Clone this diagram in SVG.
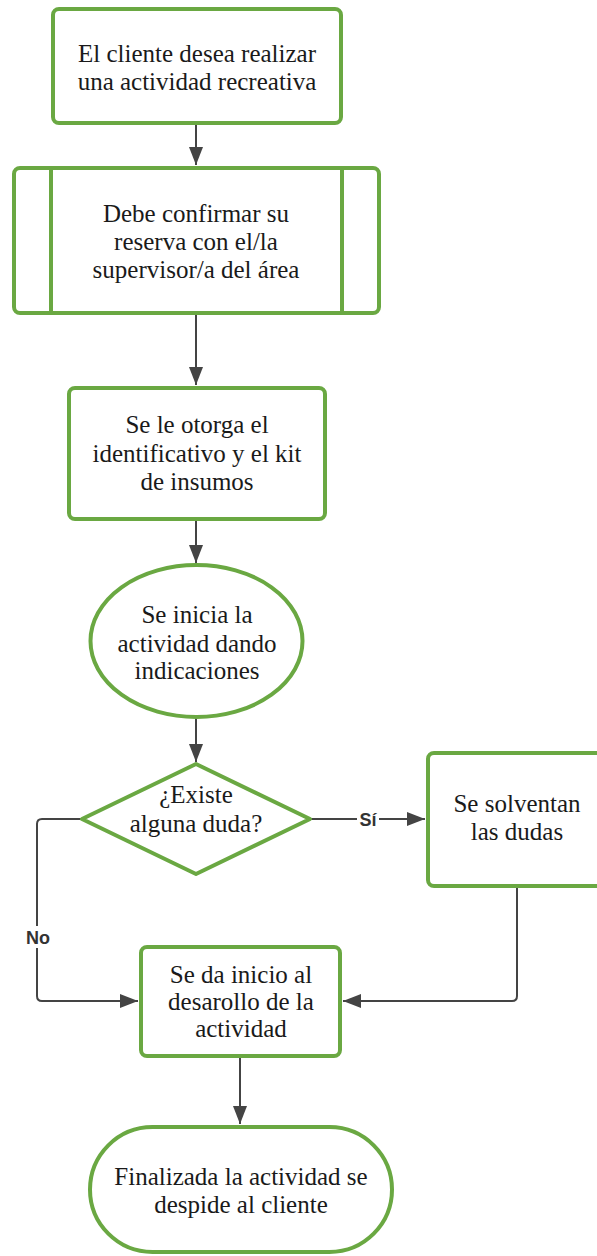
<svg xmlns="http://www.w3.org/2000/svg" width="597" height="1256" viewBox="0 0 597 1256">
<defs>
<style>
.n{fill:#fff;stroke:#6aa842;stroke-width:4;stroke-linejoin:round}
.t{font-family:"Liberation Serif","Times New Roman",serif;font-size:25px;fill:#1a1a1a;text-anchor:middle}
.c{fill:none;stroke:#444;stroke-width:2;stroke-linejoin:round}
.l{font-family:"Liberation Sans",Arial,sans-serif;font-size:18px;font-weight:bold;fill:#333;text-anchor:middle}
</style>
<marker id="ah" markerUnits="userSpaceOnUse" markerWidth="20" markerHeight="14" refX="18" refY="7" orient="auto">
<path d="M0,0 L18,7 L0,14 Z" fill="#444"/>
</marker>
</defs>
<rect width="597" height="1256" fill="#fff"/>
<g id="connectors">
<path class="c" d="M196,124 V165" marker-end="url(#ah)"/>
<path class="c" d="M196,314 V385" marker-end="url(#ah)"/>
<path class="c" d="M196,520 V563" marker-end="url(#ah)"/>
<path class="c" d="M196,718 V762" marker-end="url(#ah)"/>
<path class="c" d="M310,819 H425" marker-end="url(#ah)"/>
<rect x="357" y="808" width="22" height="22" fill="#fff"/>
<text class="l" x="368" y="826">Sí</text>
<path class="c" d="M82,819 H42 Q37,819 37,824 V996 Q37,1001 42,1001 H138" marker-end="url(#ah)"/>
<rect x="23" y="926" width="30" height="22" fill="#fff"/>
<text class="l" x="38" y="944">No</text>
<path class="c" d="M517,888 V996 Q517,1001 512,1001 H343" marker-end="url(#ah)"/>
<path class="c" d="M240,1057 V1124" marker-end="url(#ah)"/>
</g>
<g id="n1">
<rect class="n" x="53" y="9" width="288" height="114" rx="6"/>
<text class="t" x="197" y="62">El cliente desea realizar</text>
<text class="t" x="197" y="90">una actividad recreativa</text>
</g>
<g id="n2">
<rect class="n" x="14" y="168" width="365" height="145" rx="6"/>
<line class="n" x1="51" y1="168" x2="51" y2="313"/>
<line class="n" x1="342" y1="168" x2="342" y2="313"/>
<text class="t" x="196" y="222">Debe confirmar su</text>
<text class="t" x="196" y="250">reserva con el/la</text>
<text class="t" x="196" y="278">supervisor/a del área</text>
</g>
<g id="n3">
<rect class="n" x="69" y="388" width="256" height="131" rx="6"/>
<text class="t" x="197" y="433">Se le otorga el</text>
<text class="t" x="197" y="462">identificativo y el kit</text>
<text class="t" x="197" y="490">de insumos</text>
</g>
<g id="n4">
<ellipse class="n" cx="196.5" cy="641" rx="106" ry="76"/>
<text class="t" x="197" y="623">Se inicia la</text>
<text class="t" x="197" y="652">actividad dando</text>
<text class="t" x="197" y="679">indicaciones</text>
</g>
<g id="n5">
<path class="n" d="M196,764 L310,819 L196,874 L82,819 Z"/>
<text class="t" x="196" y="803">¿Existe</text>
<text class="t" x="196" y="832">alguna duda?</text>
</g>
<g id="n6">
<rect class="n" x="428" y="753" width="176" height="133" rx="6"/>
<text class="t" x="517" y="812">Se solventan</text>
<text class="t" x="517" y="840">las dudas</text>
</g>
<g id="n7">
<rect class="n" x="141" y="947" width="199" height="109" rx="6"/>
<text class="t" x="241" y="983">Se da inicio al</text>
<text class="t" x="241" y="1010">desarollo de la</text>
<text class="t" x="241" y="1037">actividad</text>
</g>
<g id="n8">
<rect class="n" x="90" y="1127" width="302" height="125" rx="62.5"/>
<text class="t" x="241" y="1185">Finalizada la actividad se</text>
<text class="t" x="241" y="1213">despide al cliente</text>
</g>
</svg>
